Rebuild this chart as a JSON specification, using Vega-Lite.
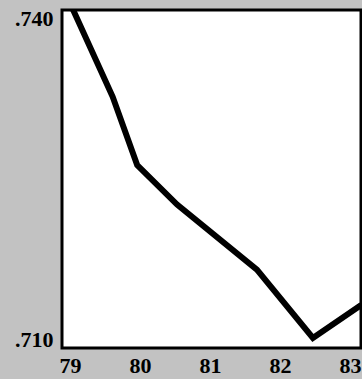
{
  "$schema": "https://vega.github.io/schema/vega-lite/v6.json",
  "width": 299,
  "height": 338,
  "autosize": {"type": "none"},
  "padding": {"left": 62, "top": 10, "right": 1, "bottom": 31},
  "background": "#c2c2c2",
  "config": {
    "view": {"fill": "white", "stroke": "black", "strokeWidth": 3},
    "font": "Liberation Serif"
  },
  "data": {
    "values": [
      {"year": 79.0, "value": 0.7415},
      {"year": 79.61, "value": 0.7327},
      {"year": 79.96, "value": 0.7263},
      {"year": 80.53, "value": 0.7226},
      {"year": 81.67, "value": 0.7165},
      {"year": 82.47, "value": 0.7101},
      {"year": 83.16, "value": 0.7132}
    ]
  },
  "mark": {"type": "line", "color": "black", "strokeWidth": 6, "clip": true},
  "encoding": {
    "x": {
      "field": "year",
      "type": "quantitative",
      "scale": {"domain": [78.886, 83.157], "nice": false, "zero": false},
      "axis": {
        "values": [79, 80, 81, 82, 83],
        "format": "d",
        "title": null,
        "ticks": false,
        "domain": false,
        "grid": false,
        "labelFont": "Liberation Serif",
        "labelFontWeight": "bold",
        "labelFontSize": 22,
        "labelColor": "black",
        "labelPadding": 7,
        "labelFlush": false,
        "labelOverlap": false
      }
    },
    "y": {
      "field": "value",
      "type": "quantitative",
      "scale": {"domain": [0.70916, 0.74084], "nice": false, "zero": false},
      "axis": {
        "values": [0.71, 0.74],
        "labelExpr": "substring(format(datum.value, '.3f'), 1)",
        "title": null,
        "ticks": false,
        "domain": false,
        "grid": false,
        "labelFont": "Liberation Serif",
        "labelFontWeight": "bold",
        "labelFontSize": 22,
        "labelColor": "black",
        "labelPadding": 9,
        "labelFlush": false,
        "labelOverlap": false
      }
    }
  }
}
